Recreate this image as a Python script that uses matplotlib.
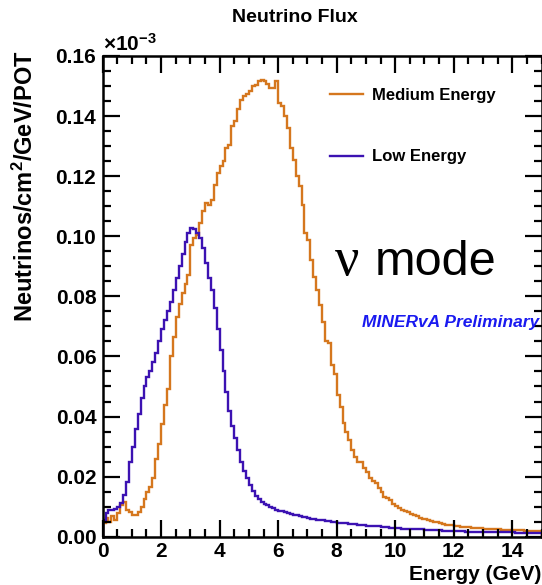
import numpy as np
import matplotlib
matplotlib.use("Agg")
import matplotlib.pyplot as plt
from matplotlib.ticker import MultipleLocator, FormatStrFormatter

plt.rcParams['font.family'] = ['Liberation Sans', 'DejaVu Sans']
plt.rcParams['mathtext.fontset'] = 'custom'
plt.rcParams['mathtext.rm'] = 'Liberation Sans'
plt.rcParams['mathtext.bf'] = 'Liberation Sans:bold'
plt.rcParams['mathtext.default'] = 'bf'

# Flux in units of 1e-3 neutrinos / cm^2 / GeV / POT, 0.1 GeV bins from 0 to 15 GeV
bin_edges = np.linspace(0.0, 15.0, 151)

medium_energy = [
    0.0045, 0.0062, 0.0050, 0.0068, 0.0056, 0.0078, 0.0105, 0.0117, 0.0090, 0.0082,
    0.0073, 0.0072, 0.0082, 0.0100, 0.0125, 0.0148, 0.0165, 0.0195, 0.0260, 0.0310,
    0.0375, 0.0440, 0.0490, 0.0600, 0.0665, 0.0730, 0.0775, 0.0810, 0.0840, 0.0870,
    0.0971, 0.0993, 0.1005, 0.1044, 0.1083, 0.1110, 0.1103, 0.1122, 0.1172, 0.1211,
    0.1233, 0.1250, 0.1294, 0.1305, 0.1366, 0.1383, 0.1422, 0.1455, 0.1466, 0.1472,
    0.1483, 0.1500, 0.1505, 0.1516, 0.1520, 0.1518, 0.1507, 0.1494, 0.1494, 0.1518,
    0.1444, 0.1433, 0.1400, 0.1360, 0.1294, 0.1255, 0.1200, 0.1166, 0.1105, 0.1010,
    0.0988, 0.0920, 0.0866, 0.0820, 0.0771, 0.0716, 0.0650, 0.0644, 0.0572, 0.0540,
    0.0472, 0.0433, 0.0378, 0.0350, 0.0322, 0.0289, 0.0265, 0.0250, 0.0247, 0.0230,
    0.0217, 0.0194, 0.0185, 0.0178, 0.0161, 0.0150, 0.0133, 0.0128, 0.0122, 0.0110,
    0.0103, 0.0094, 0.0090, 0.0085, 0.0083, 0.0077, 0.0072, 0.0068, 0.0063, 0.0060,
    0.0058, 0.0055, 0.0052, 0.0050, 0.0048, 0.0045, 0.0042, 0.0040, 0.0039, 0.0038,
    0.0036, 0.0035, 0.0033, 0.0032, 0.0032, 0.0031, 0.0030, 0.0029, 0.0028, 0.0028,
    0.0027, 0.0026, 0.0026, 0.0025, 0.0025, 0.0024, 0.0023, 0.0023, 0.0022, 0.0022,
    0.0022, 0.0021, 0.0021, 0.0021, 0.0020, 0.0020, 0.0020, 0.0020, 0.0020, 0.0020,
]

low_energy = [
    0.0055, 0.0080, 0.0088, 0.0089, 0.0092, 0.0098, 0.0112, 0.0140, 0.0183, 0.0250,
    0.0300, 0.0360, 0.0410, 0.0460, 0.0500, 0.0530, 0.0550, 0.0580, 0.0610, 0.0650,
    0.0690, 0.0720, 0.0750, 0.0780, 0.0820, 0.0860, 0.0900, 0.0940, 0.0980, 0.1010,
    0.1027, 0.1025, 0.1010, 0.0994, 0.0960, 0.0910, 0.0860, 0.0820, 0.0760, 0.0690,
    0.0620, 0.0550, 0.0480, 0.0420, 0.0370, 0.0330, 0.0290, 0.0250, 0.0220, 0.0195,
    0.0172, 0.0152, 0.0137, 0.0125, 0.0117, 0.0110, 0.0104, 0.0099, 0.0094, 0.0090,
    0.0087, 0.0084, 0.0081, 0.0078, 0.0076, 0.0073, 0.0071, 0.0069, 0.0066, 0.0064,
    0.0062, 0.0060, 0.0058, 0.0057, 0.0055, 0.0054, 0.0052, 0.0051, 0.0050, 0.0048,
    0.0047, 0.0046, 0.0045, 0.0044, 0.0043, 0.0042, 0.0041, 0.0040, 0.0039, 0.0038,
    0.0037, 0.0036, 0.0035, 0.0034, 0.0034, 0.0033, 0.0032, 0.0031, 0.0030, 0.0029,
    0.0028, 0.0028, 0.0027, 0.0027, 0.0026, 0.0026, 0.0025, 0.0025, 0.0024, 0.0024,
    0.0023, 0.0023, 0.0022, 0.0022, 0.0021, 0.0021, 0.0020, 0.0020, 0.0019, 0.0019,
    0.0019, 0.0018, 0.0018, 0.0018, 0.0017, 0.0017, 0.0017, 0.0016, 0.0016, 0.0016,
    0.0016, 0.0015, 0.0015, 0.0015, 0.0015, 0.0014, 0.0014, 0.0014, 0.0014, 0.0014,
    0.0014, 0.0013, 0.0013, 0.0013, 0.0013, 0.0013, 0.0013, 0.0013, 0.0013, 0.0013,
]

series_labels = ["Medium Energy", "Low Energy"]
ME_COLOR = "#D5771E"
LE_COLOR = "#3C12B2"

W, H = 542, 585
fig = plt.figure(figsize=(W / 100, H / 100), dpi=100)
ax = fig.add_axes([102.6 / W, 1 - 536.7 / H, (541.5 - 102.6) / W, (536.7 - 56.0) / H])

ax.stairs(medium_energy, bin_edges, color=ME_COLOR, lw=1.7, label=series_labels[0])
ax.stairs(low_energy, bin_edges, color=LE_COLOR, lw=1.7, label=series_labels[1])

ax.set_xlim(0, 15)
ax.set_ylim(0, 0.16)

ax.xaxis.set_major_locator(MultipleLocator(2))
ax.xaxis.set_minor_locator(MultipleLocator(0.5))
ax.yaxis.set_major_locator(MultipleLocator(0.02))
ax.yaxis.set_minor_locator(MultipleLocator(0.005))
ax.yaxis.set_major_formatter(FormatStrFormatter('%.2f'))

ax.tick_params(which='both', direction='in', top=True, right=True, width=1.6)
ax.tick_params(which='major', length=12, labelsize=15)
ax.tick_params(which='minor', length=6)
ax.tick_params(axis='x', which='major', pad=4)
ax.tick_params(axis='y', which='major', pad=4.5)
for lab in ax.get_xticklabels() + ax.get_yticklabels():
    lab.set_fontweight('bold')
for sp in ax.spines.values():
    sp.set_linewidth(1.8)

leg = ax.legend(loc='upper left', bbox_to_anchor=(0.518, 0.934), frameon=False,
                borderaxespad=0, borderpad=0,
                handlelength=2.0, handletextpad=0.5, labelspacing=2.8,
                prop={'weight': 'bold', 'size': 12})

# "nu mode" annotation: Greek letter in a serif face, word in sans
ax.text(0.5296, 0.5444, "\u03bd", transform=ax.transAxes, fontsize=39,
        family='Liberation Serif', ha='left', va='baseline')
ax.text(0.6206, 0.5444, "mode", transform=ax.transAxes, fontsize=35,
        ha='left', va='baseline')
ax.text(0.995, 0.446, "MINERvA Preliminary", transform=ax.transAxes, color='#1A1AF0',
        fontsize=12.5, fontweight='bold', fontstyle='italic', ha='right', va='center')

fig.text(295 / W, 1 - 17 / H, "Neutrino Flux", fontsize=14, fontweight='bold',
         ha='center', va='center')
fig.text(103 / W, 1 - 44 / H, r"$\times$10$^{-3}$", fontsize=15, fontweight='bold',
         ha='left', va='center')
fig.text(25 / W, 1 - 50 / H, "Neutrinos/cm$^2$/GeV/POT", fontsize=17, fontweight='bold',
         rotation=90, ha='center', va='top')
fig.text(541 / W, 1 - 580.5 / H, "Energy (GeV)", fontsize=15, fontweight='bold',
         ha='right', va='baseline')

fig.savefig("out.png", dpi=100)
